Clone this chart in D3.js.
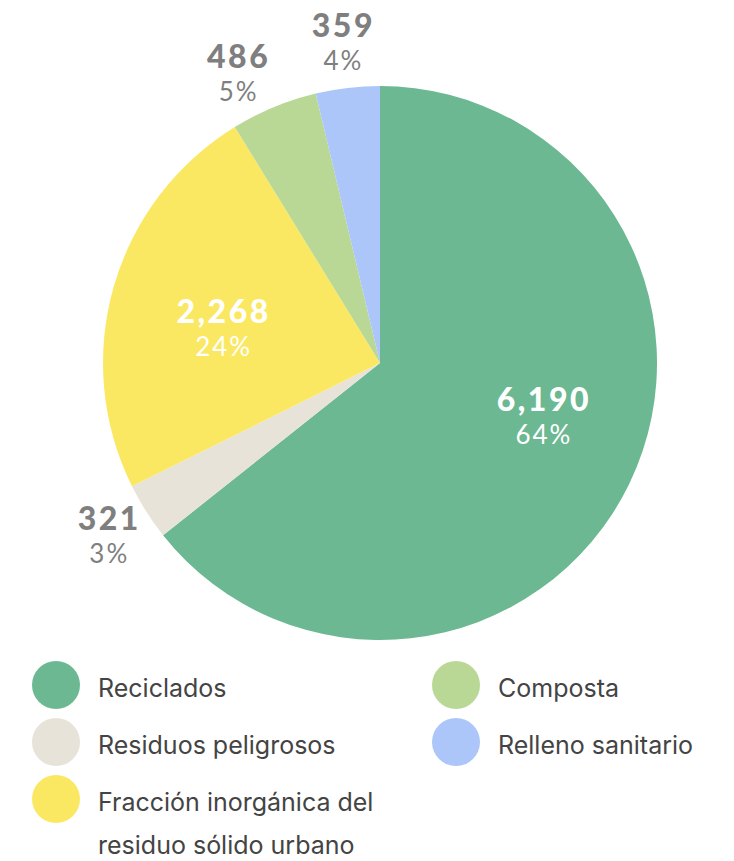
<!DOCTYPE html>
<html>
<head>
<meta charset="utf-8">
<script src="https://cdn.jsdelivr.net/npm/d3@7"></script>
<style>
  html, body { margin: 0; padding: 0; background: #fff; }
  svg { display: block; }
</style>
</head>
<body>
<svg id="chart" width="734" height="861"></svg>
<script>
const categories = ["Reciclados", "Residuos peligrosos", "Fracción inorgánica del residuo sólido urbano", "Composta", "Relleno sanitario"];
const values = [6190, 321, 2268, 486, 359];
const colors = ["#6cb892", "#e7e3d9", "#fbe862", "#b9d895", "#adc6fa"];
const labelInside = [true, false, true, false, false];

const W = 734, H = 861;
const cx = 380, cy = 363, r = 277;
// label placement
const rInX = 172, rInY = 124, inShiftX = 8, rOut = 322, minLabelDist = 108;

const svg = d3.select("#chart");
const total = d3.sum(values);
const data = categories.map((c, i) => ({ name: c, value: values[i], color: colors[i], inside: labelInside[i] }));

const pie = d3.pie().value(d => d.value).sort(null).startAngle(0).endAngle(2 * Math.PI);
const arcs = pie(data);
const arc = d3.arc().innerRadius(0).outerRadius(r);

const g = svg.append("g").attr("transform", `translate(${cx},${cy})`);
g.selectAll("path.slice").data(arcs).join("path")
  .attr("class", "slice")
  .attr("d", arc)
  .attr("fill", d => d.data.color);

// label positions
arcs.forEach(d => {
  d.la = (d.startAngle + d.endAngle) / 2;
});
function place(d) {
  if (d.data.inside) {
    d.lx = rInX * Math.sin(d.la) + inShiftX;
    d.ly = -rInY * Math.cos(d.la);
  } else {
    d.lx = rOut * Math.sin(d.la);
    d.ly = -rOut * Math.cos(d.la);
  }
}
arcs.forEach(place);
// simple collision avoidance for outside labels: rotate earlier label away
const outs = arcs.filter(d => !d.data.inside);
for (let k = 0; k < 200; k++) {
  let moved = false;
  for (let i = 0; i < outs.length; i++) {
    for (let j = i + 1; j < outs.length; j++) {
      const a = outs[i], b = outs[j];
      if (Math.hypot(a.lx - b.lx, a.ly - b.ly) < minLabelDist) {
        a.la -= 0.005;
        place(a);
        moved = true;
      }
    }
  }
  if (!moved) break;
}

const fmt = d3.format(",");
const pct = d3.format(".0%");

const lab = g.selectAll("g.lab").data(arcs).join("g")
  .attr("class", "lab")
  .attr("transform", d => `translate(${d.lx},${d.ly})`);

lab.append("text")
  .attr("text-anchor", "middle")
  .attr("x", 1)
  .attr("y", -6)
  .attr("font-family", "Lato, 'Open Sans', sans-serif")
  .attr("font-weight", 900)
  .attr("font-size", 32)
  .attr("letter-spacing", 2.5)
  .attr("fill", d => d.data.inside ? "#ffffff" : "#7f7f7f")
  .text(d => fmt(d.data.value));

lab.append("text")
  .attr("text-anchor", "middle")
  .attr("x", 1)
  .attr("y", 27)
  .attr("font-family", "Lato, 'Open Sans', sans-serif")
  .attr("font-weight", 400)
  .attr("font-size", 26)
  .attr("letter-spacing", 2)
  .attr("fill", d => d.data.inside ? "#ffffff" : "#7f7f7f")
  .text(d => pct(d.data.value / total));

// legend
const legX = [56, 456], legY0 = 685, legDY = 57, dotR = 24, textDX = 42, maxW = 310;
const leg = svg.append("g").selectAll("g").data(data).join("g")
  .attr("transform", (d, i) => `translate(${legX[Math.floor(i / 3)]},${legY0 + (i % 3) * legDY})`);

leg.append("circle").attr("r", dotR).attr("fill", d => d.color);

leg.append("text")
  .attr("x", textDX)
  .attr("y", 12)
  .attr("font-family", "Inter, 'Liberation Sans', Arial, sans-serif")
  .attr("font-size", 25)
  .attr("fill", "#444")
  .each(function(d) {
    const t = d3.select(this);
    const words = d.name.split(" ");
    let line = [];
    let tspan = t.append("tspan").attr("x", textDX).attr("dy", 0);
    words.forEach(w => {
      line.push(w);
      tspan.text(line.join(" "));
      if (tspan.node().getComputedTextLength() > maxW && line.length > 1) {
        line.pop();
        tspan.text(line.join(" "));
        line = [w];
        tspan = t.append("tspan").attr("x", textDX).attr("dy", 43).text(w);
      }
    });
  });
</script>
</body>
</html>
